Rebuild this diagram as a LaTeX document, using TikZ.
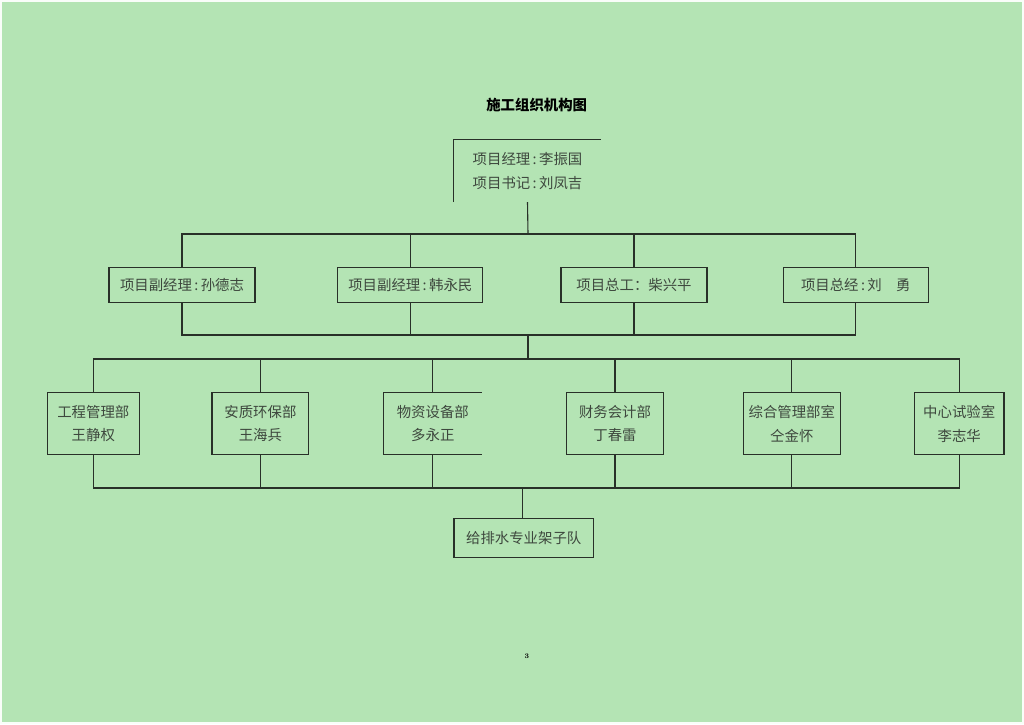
\documentclass[tikz,border=0pt]{standalone}
\usepackage{fontspec}
\newfontfamily\cjk{Noto Sans CJK SC}
\definecolor{bgc}{RGB}{180,228,180}
\definecolor{linec}{RGB}{40,48,40}
\definecolor{txtc}{RGB}{62,72,62}
\begin{document}
\begin{tikzpicture}[x=1pt,y=-1pt,
  lbl/.style={inner sep=0pt,text=txtc,font=\cjk\fontsize{14.4}{23.5}\selectfont,align=center},
  box/.style={lbl,draw=linec,line width=1.2pt},
  conn/.style={draw=linec,line width=1.1pt}]
\useasboundingbox (0,0) rectangle (1024,724);
\fill[white!92!bgc] (0,0) rectangle (1024,724);
\fill[bgc] (2,2) rectangle (1022,722);
% title
\node[lbl,font=\cjk\bfseries\fontsize{14.4}{16}\selectfont,text=black] (title) at (536.7,105) {施工组织机构图};
% top open box
\node[lbl,minimum width=147pt,minimum height=62pt] (top) at (527.5,171) {项目经理\,:\,李振国\\项目书记\,:\,刘凤吉};
\draw[conn] (top.south west) -- (top.north west) -- (top.north east);
% row 2
\node[box,minimum width=146pt,minimum height=35pt] (p1) at (182,285) {项目副经理\,:\,孙德志};
\node[box,minimum width=145pt,minimum height=35pt] (p2) at (410.3,285) {项目副经理\,:\,韩永民};
\node[box,minimum width=146pt,minimum height=35pt] (p3) at (634,285) {项目总工：柴兴平};
\node[box,minimum width=145pt,minimum height=35pt] (p4) at (855.8,285) {项目总经\,:\,刘\hspace{1em}勇};
\coordinate (b1) at (528,234);
\coordinate (b2) at (528,335);
\coordinate (b3) at (528,359);
\coordinate (b4) at (522.7,488);
\draw[conn] (top.south) -- (b1);
\draw[conn] (p1.north) -- (p1.north |- b1) -- (p4.north |- b1) -- (p4.north);
\draw[conn] (p2.north) -- (p2.north |- b1);
\draw[conn] (p3.north) -- (p3.north |- b1);
\draw[conn] (p1.south) -- (p1.south |- b2) -- (p4.south |- b2) -- (p4.south);
\draw[conn] (p2.south) -- (p2.south |- b2);
\draw[conn] (p3.south) -- (p3.south |- b2);
\draw[conn] (b2) -- (b3);
% row 3
\node[box,minimum width=92pt,minimum height=62pt] (d1) at (93.3,423.7) {工程管理部\\王静权};
\node[box,minimum width=96.7pt,minimum height=62pt] (d2) at (260.4,423.7) {安质环保部\\王海兵};
\node[lbl,minimum width=97.7pt,minimum height=62pt] (d3) at (432.8,423.7) {物资设备部\\多永正};
\draw[conn] (d3.north east) -- (d3.north west) -- (d3.south west) -- (d3.south east);
\node[box,minimum width=96.6pt,minimum height=62pt] (d4) at (615,423.7) {财务会计部\\丁春雷};
\node[box,minimum width=97pt,minimum height=62pt] (d5) at (791.8,423.7) {综合管理部室\\仝金怀};
\node[box,minimum width=89.7pt,minimum height=62pt] (d6) at (959.2,423.7) {中心试验室\\李志华};
\draw[conn] (d1.north) -- (d1.north |- b3) -- (d6.north |- b3) -- (d6.north);
\foreach \n in {d2,d3,d4,d5} \draw[conn] (\n.north) -- (\n.north |- b3);
\draw[conn] (d1.south) -- (d1.south |- b4) -- (d6.south |- b4) -- (d6.south);
\foreach \n in {d2,d3,d4,d5} \draw[conn] (\n.south) -- (\n.south |- b4);
% bottom
\node[box,minimum width=139.3pt,minimum height=39.4pt] (team) at (523.7,538) {给排水专业架子队};
\draw[conn] (b4) -- (team.north -| b4);
% page number
\node[inner sep=0pt,font=\bfseries\fontsize{7}{8}\selectfont] (pg) at (527,656) {3};
\end{tikzpicture}
\end{document}
